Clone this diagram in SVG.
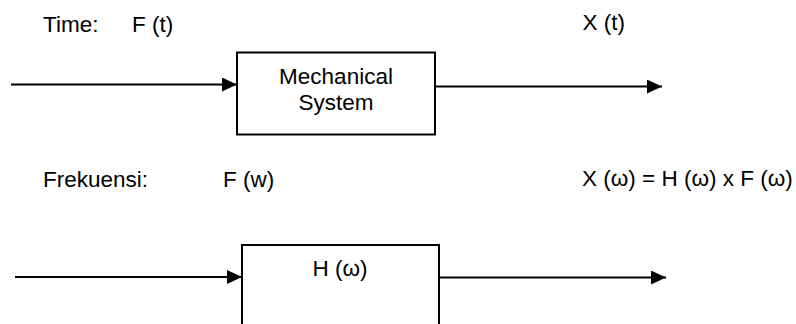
<svg xmlns="http://www.w3.org/2000/svg" width="796" height="324" viewBox="0 0 796 324">
<style>
text{font-family:"Liberation Sans",Arial,sans-serif;font-size:22.5px;fill:#000}
.box{fill:#fff;stroke:#000;stroke-width:2}
.conn{stroke:#000;stroke-width:2;fill:none}
</style>
<defs>
<marker id="arr" markerWidth="15" markerHeight="14" refX="15" refY="7" orient="auto" markerUnits="userSpaceOnUse">
<path d="M0,0 L15,7 L0,14 Z" fill="#000"/>
</marker>
</defs>
<rect width="796" height="324" fill="#fff"/>
<g id="labels">
<text x="43" y="31.5">Time:</text>
<text x="132" y="31.5">F (t)</text>
<text x="582.5" y="29.5">X (t)</text>
<text x="43" y="186.5">Frekuensi:</text>
<text x="223" y="186.5">F (w)</text>
<text x="582" y="186">X (ω) = H (ω) x F (ω)</text>
</g>
<g id="mechanical-system">
<rect class="box" x="237" y="52.5" width="198" height="82"/>
<text x="336" y="84" text-anchor="middle">Mechanical</text>
<text x="336" y="110" text-anchor="middle">System</text>
</g>
<g id="h-omega">
<rect class="box" x="242" y="245" width="197" height="90"/>
<text x="340" y="276" text-anchor="middle">H (ω)</text>
</g>
<g id="connectors">
<line class="conn" x1="11" y1="84.5" x2="237" y2="84.5" marker-end="url(#arr)"/>
<line class="conn" x1="435" y1="86.5" x2="662" y2="86.5" marker-end="url(#arr)"/>
<line class="conn" x1="15" y1="277" x2="242" y2="277" marker-end="url(#arr)"/>
<line class="conn" x1="439" y1="277.5" x2="666" y2="277.5" marker-end="url(#arr)"/>
</g>
</svg>
